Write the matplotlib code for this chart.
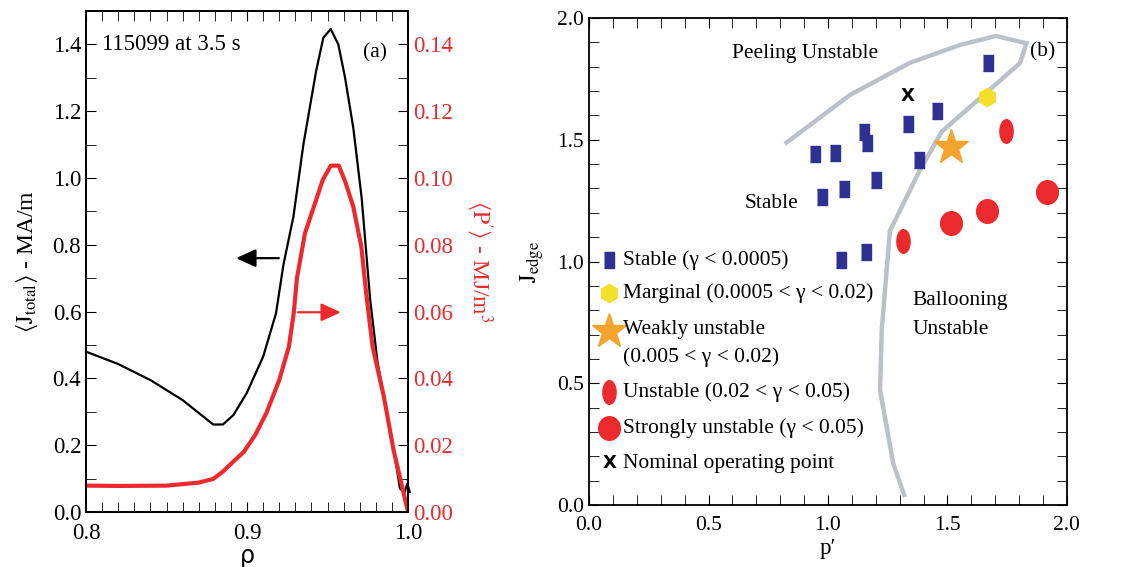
import numpy as np
import matplotlib
matplotlib.use('Agg')
import matplotlib.pyplot as plt
from matplotlib.ticker import MultipleLocator

plt.rcParams['font.family'] = 'serif'
plt.rcParams['font.serif'] = ['Liberation Serif', 'DejaVu Serif']
plt.rcParams['mathtext.fontset'] = 'stix'
SERIF = ['Liberation Serif', 'DejaVu Serif']

# panel (a): profiles vs rho
rho_j = [0.800, 0.820, 0.840, 0.860, 0.879, 0.885, 0.8915, 0.8998, 0.910, 0.918, 0.9226,
         0.9288, 0.935, 0.9429, 0.9474, 0.952, 0.9567, 0.9609, 0.966, 0.9712, 0.9764,
         0.981, 0.986, 0.991, 0.995, 0.998, 0.9995, 1.001]
j_total = [0.480, 0.443, 0.395, 0.335, 0.262, 0.262, 0.290, 0.356, 0.465, 0.595, 0.740,
           0.884, 1.100, 1.320, 1.420, 1.446, 1.400, 1.300, 1.150, 0.940, 0.640,
           0.450, 0.320, 0.190, 0.070, 0.060, 0.085, 0.060]

rho_p = [0.800, 0.820, 0.850, 0.870, 0.879, 0.885, 0.8915, 0.898, 0.905, 0.912, 0.920,
         0.926, 0.929, 0.931, 0.936, 0.9429, 0.947, 0.952, 0.957, 0.961, 0.966, 0.971, 0.974,
         0.978, 0.985, 0.991, 1.000]
p_prime = [0.0079, 0.0078, 0.0079, 0.0088, 0.0099, 0.0121, 0.0151, 0.0180, 0.0230, 0.0296,
           0.0395, 0.0495, 0.0595, 0.0700, 0.0835, 0.0934, 0.0994, 0.1037, 0.1037, 0.0989,
           0.0914, 0.0794, 0.0655, 0.0495, 0.0345, 0.0186, 0.0000]

# panel (b): stability diagram
stable_x = [1.668, 1.455, 1.333, 1.151, 1.162, 0.946, 1.029, 1.379, 1.201, 1.067, 0.976, 1.053, 1.159]
stable_y = [1.814, 1.619, 1.565, 1.533, 1.488, 1.440, 1.444, 1.417, 1.335, 1.298, 1.266, 1.006, 1.040]
marginal_x, marginal_y = [1.664], [1.677]
weak_x, weak_y = [1.513], [1.472]
unstable_x, unstable_y = [1.745, 1.315], [1.537, 1.083]
strong_x = [1.513, 1.664, 1.918]
strong_y = [1.159, 1.209, 1.287]
nominal_x, nominal_y = [1.333], [1.680]

bound_x = [0.826, 1.092, 1.343, 1.552, 1.703, 1.831, 1.803, 1.476, 1.385, 1.259, 1.225, 1.218, 1.273, 1.319]
bound_y = [1.488, 1.684, 1.816, 1.889, 1.926, 1.896, 1.814, 1.533, 1.376, 1.125, 0.719, 0.472, 0.171, 0.041]

legend_labels = ['Stable (γ < 0.0005)', 'Marginal (0.0005 < γ < 0.02)',
                 'Weakly unstable\n(0.005 < γ < 0.02)', 'Unstable (0.02 < γ < 0.05)',
                 'Strongly unstable (γ < 0.05)', 'Nominal operating point']
legend_y = [1.006, 0.869, 0.715, 0.463, 0.315, 0.171]

RED = '#ec2a2e'
BLUE = '#2e3192'
GRAY = '#bcc1c7'
YELLOW = '#f2e02c'
ORANGE = '#f4a32c'

rect = [(-0.3, -0.5), (0.3, -0.5), (0.3, 0.5), (-0.3, 0.5)]
t = np.linspace(0, 2 * np.pi, 40)
oval = list(zip(0.28 * np.cos(t), 0.5 * np.sin(t)))
circ = list(zip(0.46 * np.cos(t), 0.5 * np.sin(t)))

fig = plt.figure(figsize=(11.35, 5.67), dpi=100)

# ---- panel (a)
ax = fig.add_axes([0.0758, 0.097, 0.2837, 0.8836])
ax.plot(rho_j, j_total, color='black', lw=1.6, clip_on=False)
ax.set_xlim(0.8, 1.0)
ax.set_ylim(0, 1.5)
ax.xaxis.set_major_locator(MultipleLocator(0.1))
ax.xaxis.set_minor_locator(MultipleLocator(0.01))
ax.yaxis.set_minor_locator(MultipleLocator(0.1))
ax.set_yticks(np.arange(0, 1.41, 0.2))
ax.tick_params(which='both', direction='in', top=True, right=False, labelsize=16.5, length=7)
ax.tick_params(axis='x', pad=8)
ax.set_xlabel('ρ', fontsize=17, labelpad=0, family=['DejaVu Sans'])
ax.set_ylabel(r'$\langle\mathrm{J}_{\mathrm{total}}\rangle$ - MA/m', fontsize=17, labelpad=9)
ax.text(0.8097, 1.40, '115099 at 3.5 s', fontsize=16.5, va='center', family=SERIF)
ax.text(0.972, 1.375, '(a)', fontsize=15.5, va='center', family=SERIF)
ax.annotate('', xy=(0.8915, 0.76), xytext=(0.9215, 0.76),
            arrowprops=dict(arrowstyle='-|>,head_length=1.2,head_width=0.55', color='black', lw=1.6))
ax.annotate('', xy=(0.960, 0.598), xytext=(0.930, 0.598),
            arrowprops=dict(arrowstyle='-|>,head_length=1.2,head_width=0.55', color=RED, lw=1.6))

ax2 = ax.twinx()
ax2.plot(rho_p, p_prime, color=RED, lw=3)
ax2.set_ylim(0, 0.15)
ax2.set_yticks(np.arange(0, 0.141, 0.02))
ax2.yaxis.set_minor_locator(MultipleLocator(0.01))
ax2.tick_params(which='both', direction='in', labelsize=16.5, labelcolor=RED, length=7)
ax2.set_ylabel(r"$\langle\mathrm{P}'\rangle$ - MJ/m$^3$", fontsize=17, color=RED, rotation=270, labelpad=30)

# ---- panel (b)
bx = fig.add_axes([0.519, 0.1093, 0.421, 0.859])
bx.plot(bound_x, bound_y, color=GRAY, lw=3.2, solid_joinstyle='miter')
bx.plot(stable_x, stable_y, ls='none', marker=rect, ms=11, color=BLUE)
bx.plot(marginal_x, marginal_y, ls='none', marker='h', ms=13, color=YELLOW)
bx.plot(weak_x, weak_y, ls='none', marker='*', ms=26, color=ORANGE)
bx.plot(unstable_x, unstable_y, ls='none', marker=oval, ms=17, color=RED)
bx.plot(strong_x, strong_y, ls='none', marker=circ, ms=17, color=RED)
for x, y in zip(nominal_x, nominal_y):
    bx.text(x, y, 'X', family=['DejaVu Sans'], fontsize=13, fontweight='bold', ha='center', va='center')

# hand-made legend
lx, tx = 0.084, 0.142
bx.plot([lx], [legend_y[0]], marker=rect, ms=11, color=BLUE)
bx.plot([lx], [legend_y[1]], marker='h', ms=13, color=YELLOW)
bx.plot([lx], [legend_y[2]], marker='*', ms=26, color=ORANGE)
bx.plot([lx], [legend_y[3]], marker=oval, ms=17, color=RED)
bx.plot([lx], [legend_y[4]], marker=circ, ms=17, color=RED)
bx.text(lx, legend_y[5], 'X', family=['DejaVu Sans'], fontsize=13, fontweight='bold', ha='center', va='center')
for lab, y in zip(legend_labels, legend_y):
    if '\n' in lab:
        l1, l2 = lab.split('\n')
        bx.text(tx, y + 0.004, l1, fontsize=15.5, va='center', family=SERIF)
        bx.text(tx, y - 0.107, l2, fontsize=15.5, va='center', family=SERIF)
    else:
        bx.text(tx, y, lab, fontsize=15.5, va='center', family=SERIF)

bx.text(0.597, 1.856, 'Peeling Unstable', fontsize=15.5, va='center', family=SERIF)
bx.text(0.653, 1.24, 'Stable', fontsize=15.5, va='center', family=SERIF)
bx.text(1.845, 1.862, '(b)', fontsize=15.5, va='center', family=SERIF)
bx.text(1.354, 0.838, 'Ballooning', fontsize=15.5, va='center', family=SERIF)
bx.text(1.354, 0.719, 'Unstable', fontsize=15.5, va='center', family=SERIF)

bx.set_xlim(0, 2)
bx.set_ylim(0, 2)
bx.xaxis.set_major_locator(MultipleLocator(0.5))
bx.xaxis.set_minor_locator(MultipleLocator(0.1))
bx.yaxis.set_major_locator(MultipleLocator(0.5))
bx.yaxis.set_minor_locator(MultipleLocator(0.1))
bx.tick_params(which='both', direction='in', top=True, right=True, labelsize=15.5, length=7)
bx.tick_params(axis='x', pad=8)
bx.set_xlabel('p′', fontsize=16.5, labelpad=2, family=SERIF)
bx.set_ylabel(r'$\mathrm{J}_{\mathrm{edge}}$', fontsize=17, labelpad=8)

for a in (ax, ax2, bx):
    for s in a.spines.values():
        s.set_linewidth(1.3)
    for lab in a.get_xticklabels() + a.get_yticklabels():
        lab.set_family(SERIF)

fig.savefig('out.png', dpi=100)
